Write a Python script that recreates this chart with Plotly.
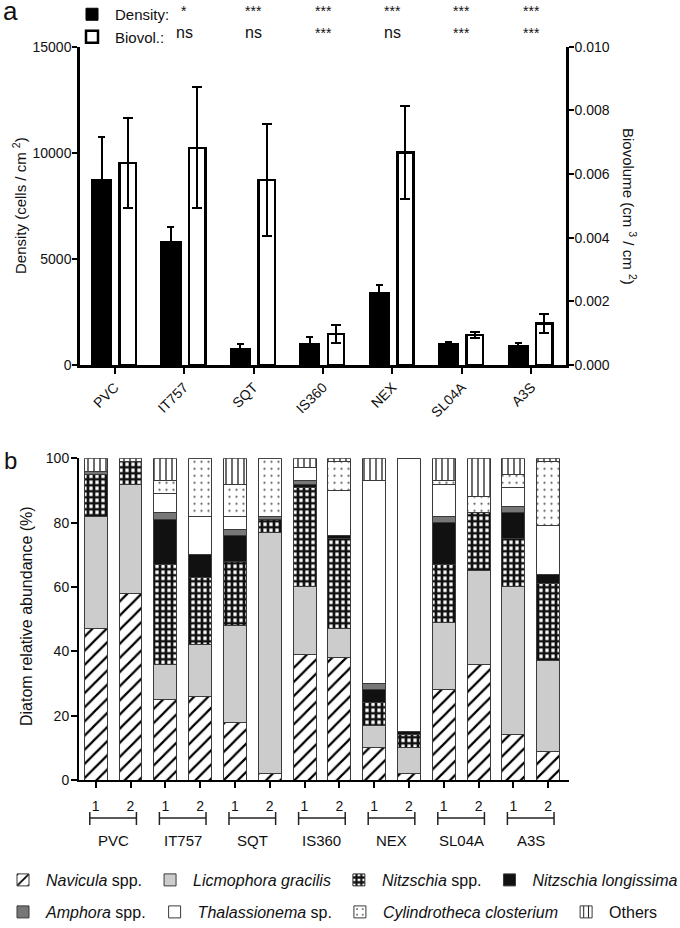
import plotly.graph_objects as go

W, H = 680, 928


def fx(p):
    return p / W


def fy(p):
    return 1 - p / H


# ---------------- Panel a data ----------------
categories = ["PVC", "IT757", "SQT", "IS360", "NEX", "SL04A", "A3S"]
density = [8750, 5800, 770, 1000, 3400, 1020, 930]
density_err = [2000, 700, 220, 340, 380, 60, 90]
biovol = [0.00634, 0.00682, 0.00581, 0.00098, 0.00668, 0.00095, 0.00131]
biovol_err = [0.00142, 0.0019, 0.00177, 0.00028, 0.00145, 0.0001, 0.0003]
# significance vs PVC for each other coating
sig_density = ["*", "***", "***", "***", "***", "***"]
sig_biovol = ["ns", "ns", "***", "ns", "***", "***"]

# ---------------- Panel b data ----------------
sample_labels = ["1", "2"] * 7
groups = ["PVC", "IT757", "SQT", "IS360", "NEX", "SL04A", "A3S"]
navicula = [47, 58, 25, 26, 18, 2, 39, 38, 10, 2, 28, 36, 14, 9]
licmophora = [35, 34, 11, 16, 30, 75, 21, 9, 7, 8, 21, 29, 46, 28]
nitzschia = [13, 7, 31, 21, 20, 4, 31, 28, 7, 4, 18, 18, 15, 24]
longissima = [0, 0, 14, 7, 8, 0, 1, 1, 4, 1, 13, 0, 8, 3]
amphora = [1, 0, 2, 0, 2, 1, 1, 0, 2, 0, 2, 0, 2, 0]
thalassionema = [0, 0, 6, 12, 4, 0, 4, 14, 63, 85, 10, 0, 6, 15]
cylindrotheca = [0, 0, 4, 18, 10, 18, 0, 9, 0, 0, 1, 5, 4, 20]
others = [4, 1, 7, 0, 8, 0, 3, 1, 7, 0, 7, 12, 5, 1]

species_names = [
    "<i>Navicula</i> spp.",
    "<i>Licmophora gracilis</i>",
    "<i>Nitzschia</i> spp.",
    "<i>Nitzschia longissima</i>",
    "<i>Amphora</i> spp.",
    "<i>Thalassionema</i> sp.",
    "<i>Cylindrotheca closterium</i>",
    "Others",
]
species_values = [navicula, licmophora, nitzschia, longissima,
                  amphora, thalassionema, cylindrotheca, others]

FONT = "Liberation Sans, Arial, sans-serif"
OUTLINE = "#3a3a3a"

styles = [
    dict(color="white", pattern=dict(shape="/", fgcolor="black", bgcolor="white", size=10, solidity=0.22, fillmode="replace")),
    dict(color="#cccccc"),
    dict(color="white", pattern=dict(shape="+", fgcolor="#111111", bgcolor="white", size=6, solidity=0.7, fillmode="replace")),
    dict(color="#111111"),
    dict(color="#777777"),
    dict(color="white"),
    dict(color="white", pattern=dict(shape=".", fgcolor="#555555", bgcolor="white", size=7, solidity=0.08, fillmode="replace")),
    dict(color="white", pattern=dict(shape="|", fgcolor="#222222", bgcolor="white", size=6, solidity=0.22, fillmode="replace")),
]

fig = go.Figure()

# Panel a bars
fig.add_trace(go.Bar(
    x=categories, y=density, name="Density:",
    marker=dict(color="black", line=dict(color="black", width=1)),
    width=0.29, offset=-0.335,
    error_y=dict(type="data", array=density_err, color="black", thickness=2, width=3.5),
    xaxis="x", yaxis="y", legend="legend2", legendgroup="d",
))
fig.add_trace(go.Bar(
    x=categories, y=biovol, name="Biovol.:",
    marker=dict(color="white", line=dict(color="black", width=2.5)),
    width=0.235, offset=0.07,
    error_y=dict(type="data", array=biovol_err, color="black", thickness=2, width=5),
    xaxis="x", yaxis="y2", legend="legend2", legendgroup="b",
))

# Panel b stacked bars
xb = list(range(len(sample_labels)))
for i, (name, vals, st) in enumerate(zip(species_names, species_values, styles)):
    marker = dict(color=st["color"], line=dict(color=OUTLINE, width=1))
    if "pattern" in st:
        marker["pattern"] = st["pattern"]
    fig.add_trace(go.Bar(
        x=xb, y=vals, name=name, marker=marker, width=0.66,
        xaxis="x2", yaxis="y3", cliponaxis=False,
        legend="legend" if i < 4 else "legend3",
    ))

axis_common = dict(showline=True, linecolor="black", ticks="outside", tickcolor="black",
                   automargin=False,
                   showgrid=False, zeroline=False, tickfont=dict(family=FONT, size=14, color="#111"))

fig.update_layout(
    width=W, height=H,
    margin=dict(l=0, r=0, t=0, b=0, autoexpand=False),
    paper_bgcolor="white", plot_bgcolor="white",
    barmode="stack",
    font=dict(family=FONT, color="#111"),
    xaxis=dict(domain=[fx(80), fx(566)], anchor="y", type="category", range=[-0.5, 6.5],
               linewidth=2.5, ticklen=6, tickwidth=2, tickangle=-45, **axis_common),
    yaxis=dict(domain=[fy(365), fy(46.7)], anchor="x", range=[0, 15000], tickformat="d",
               tickvals=[0, 5000, 10000, 15000], linewidth=2.5, ticklen=5, tickwidth=2,
               ticklabelstandoff=-2, **axis_common),
    yaxis2=dict(overlaying="y", side="right", anchor="x", range=[0, 0.010], dtick=0.002,
                tickformat=".3f", linewidth=2.5, ticklen=5, tickwidth=2,
                ticklabelstandoff=-2, **axis_common),
    xaxis2=dict(domain=[fx(79), fx(569)], anchor="y3", range=[-0.48, 13.6],
                tickvals=xb, ticktext=sample_labels, linewidth=2, ticklen=6, tickwidth=1.5,
                ticklabelstandoff=6, **axis_common),
    yaxis3=dict(domain=[fy(780), fy(458.3)], anchor="x2", range=[0, 100], dtick=20,
                linewidth=2, ticklen=6, tickwidth=1.5, ticklabelstandoff=-1, **axis_common),
    legend=dict(orientation="h", x=0, xanchor="left", y=fy(880), yanchor="middle", itemwidth=36,
                traceorder="normal", font=dict(family=FONT, size=16, color="#111"),
                bgcolor="rgba(0,0,0,0)"),
    legend3=dict(orientation="h", x=0, xanchor="left", y=fy(912), yanchor="middle", itemwidth=36,
                 traceorder="normal", font=dict(family=FONT, size=16, color="#111"),
                 bgcolor="rgba(0,0,0,0)"),
    legend2=dict(orientation="v", x=fx(69), xanchor="left", y=fy(-2), yanchor="top", itemwidth=36,
                 traceorder="normal", tracegroupgap=3, font=dict(family=FONT, size=15, color="#111"),
                 bgcolor="rgba(0,0,0,0)"),
)

ann = []
C = dict(xanchor="center", yanchor="middle", showarrow=False)
# panel letters
ann.append(dict(text="a", x=fx(10), y=fy(11), xref="paper", yref="paper",
                font=dict(family=FONT, size=26, color="#111"), **C))
ann.append(dict(text="b", x=fx(10), y=fy(461), xref="paper", yref="paper",
                font=dict(family=FONT, size=24, color="#111"), **C))
# axis titles
ann.append(dict(text="Density (cells / cm <sup>2</sup>)", x=fx(19), y=fy(206), xref="paper", yref="paper",
                textangle=-90, font=dict(family=FONT, size=15, color="#111"), **C))
ann.append(dict(text="Biovolume (cm <sup>3</sup> / cm <sup>2</sup>)", x=fx(630), y=fy(206), xref="paper",
                yref="paper", textangle=90, font=dict(family=FONT, size=15, color="#111"), **C))
ann.append(dict(text="Diatom relative abundance (%)", x=fx(26), y=fy(616), xref="paper", yref="paper",
                textangle=-90, font=dict(family=FONT, size=16, color="#111"), **C))
# significance marks, above each coating compared with PVC
for cat, sd, sb in zip(categories[1:], sig_density, sig_biovol):
    ann.append(dict(text=sd, x=cat, y=fy(11), xref="x", yref="paper",
                    font=dict(family=FONT, size=14, color="#111"), **C))
    ann.append(dict(text=sb, x=cat, y=fy(33), xref="x", yref="paper",
                    font=dict(family=FONT, size=16 if sb == "ns" else 14, color="#111"), **C))

# group brackets and labels
shapes = []
for g, name in enumerate(groups):
    x0 = 2 * g - 0.17
    x1 = 2 * g + 1.17
    shapes.append(dict(type="line", xref="x2", yref="paper", x0=x0, x1=x1, y0=fy(818), y1=fy(818),
                       line=dict(color="#222", width=1.5)))
    for xe in (x0, x1):
        shapes.append(dict(type="line", xref="x2", yref="paper", x0=xe, x1=xe, y0=fy(812), y1=fy(825),
                           line=dict(color="#222", width=1.5)))
    ann.append(dict(text=name, x=2 * g + 0.5, y=fy(840), xref="x2", yref="paper",
                    font=dict(family=FONT, size=15, color="#111"), **C))

fig.update_layout(annotations=ann, shapes=shapes)

fig.write_html("out.html", config={"displayModeBar": False},
               post_script="document.body.style.margin='0px';document.body.style.overflow='hidden';")
